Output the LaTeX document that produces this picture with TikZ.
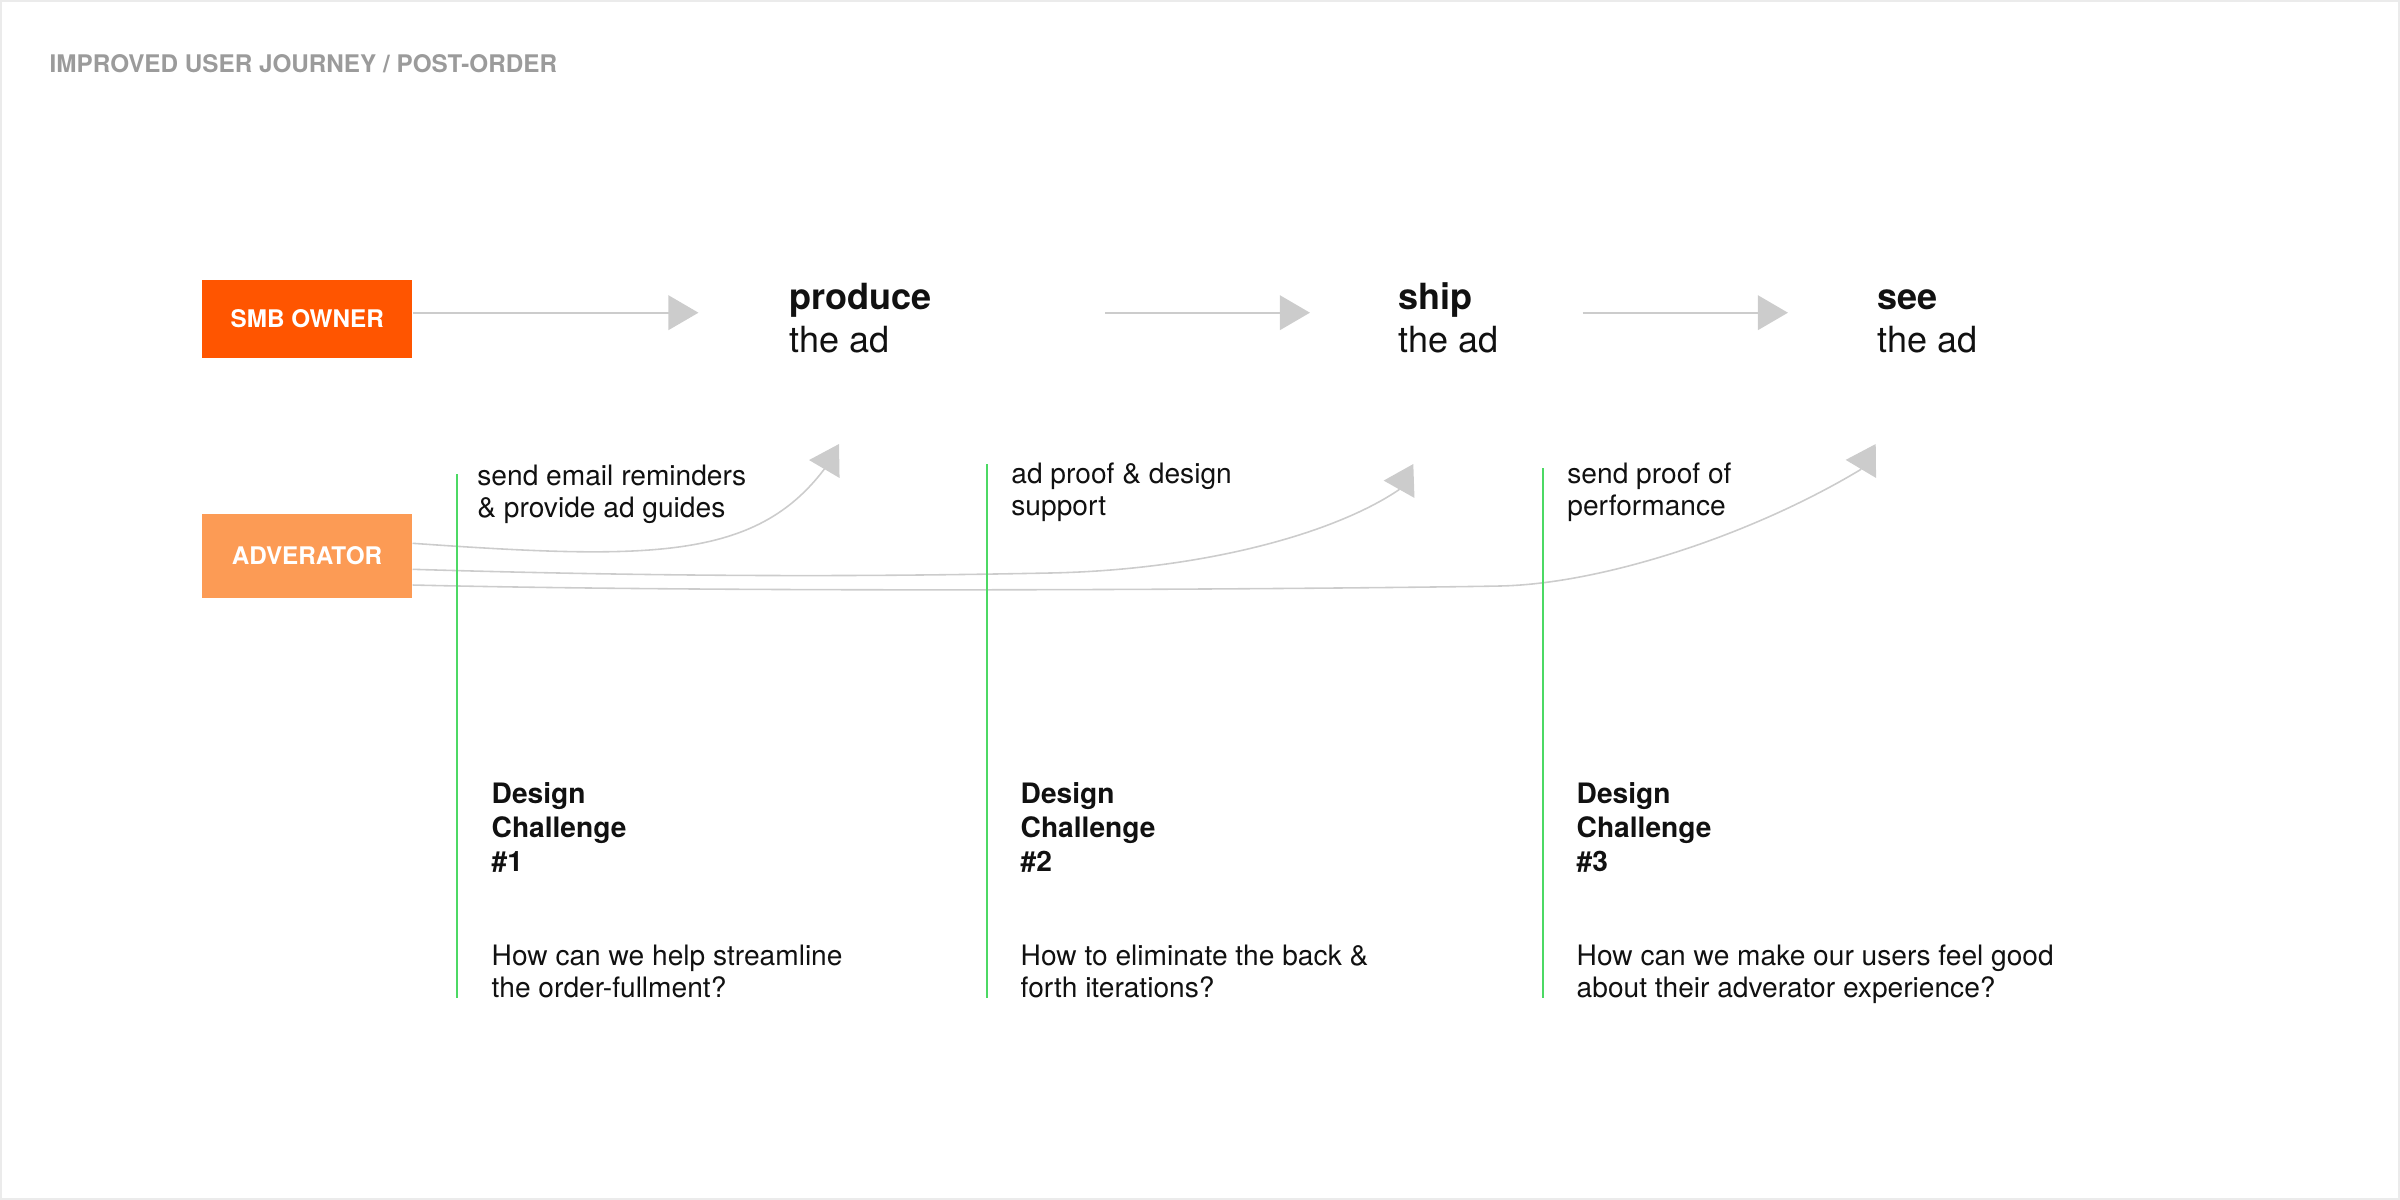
\documentclass[tikz,border=0pt]{standalone}
\usepackage{fontspec}
\setmainfont{TeX Gyre Heros}
\usepackage{tikz}
\usetikzlibrary{positioning,calc,arrows.meta}
\definecolor{smb red}{HTML}{FF5500}
\definecolor{adv orange}{HTML}{FC9B55}
\definecolor{flow gray}{HTML}{CCCCCC}
\definecolor{rule green}{HTML}{4CD964}
\definecolor{title gray}{HTML}{9B9B9B}
\definecolor{frame gray}{HTML}{EBEBEB}
\definecolor{ink}{HTML}{111111}
\tikzset{
	journey map/.style={
		x=0.01cm,
		y=-0.01cm, % one unit is one pixel of the page, y runs down
		text=ink,
		font=\fontsize{8pt}{9.1pt}\selectfont,
		page frame/.style={
			draw=frame gray,
			line width=0.04cm
		},
		flow arrow/.style={
			draw=flow gray,
			line width=0.55pt,
			-{Triangle[length=0.3cm,width=0.345cm]}
		},
		support arrow/.style={
			draw=flow gray,
			line width=0.45pt,
			-{Triangle[length=0.29cm,width=0.35cm]}
		},
		phase rule/.style={
			draw=rule green,
			line width=0.02cm
		}
	},
	map title/.style={
		anchor=base west,
		inner sep=0pt,
		text=title gray,
		font=\fontsize{6.9pt}{8pt}\selectfont\bfseries
	},
	actor box/.style={
		rectangle,
		inner sep=0pt,
		minimum width=2.095cm,
		text=white,
		font=\fontsize{6.9pt}{8pt}\selectfont\bfseries
	},
	stage label/.style={
		anchor=base west, % base is the baseline of the last line
		inner sep=0pt,
		align=left,
		font=\fontsize{10.25pt}{11.95pt}\selectfont
	},
	note text/.style={
		anchor=base west,
		inner sep=0pt,
		align=left,
		font=\fontsize{8pt}{9.1pt}\selectfont
	},
	challenge label/.style={
		note text,
		font=\fontsize{8pt}{9.67pt}\selectfont\bfseries
	},
	question text/.style={
		note text
	}
}
\begin{document}
\begin{tikzpicture}[journey map]
	\useasboundingbox (0,0) rectangle (2400,1200);
	\draw[page frame] (0,0) rectangle (2400,1200);
	\node[map title] (title) at (49,72.3) {IMPROVED USER JOURNEY / POST-ORDER};

	% actors
	\node[actor box,fill=smb red,minimum height=0.777cm] (smb) at (307.25,318.85) {SMB OWNER};
	\node[actor box,fill=adv orange,minimum height=0.84cm] (adv) at (307,556) {ADVERATOR};

	% stages of the journey
	\node[stage label] (produce) at (789,352) {\textbf{produce}\\the ad};
	\node[stage label] (ship) at (1397.5,352) {\textbf{ship}\\the ad};
	\node[stage label] (see) at (1876.5,352) {\textbf{see}\\the ad};

	\coordinate (flow row) at (0,312.7);
	\draw[flow arrow,shorten >=0.905cm] (smb.east |- flow row) -- (produce.west |- flow row);
	\draw[flow arrow,shorten <=3.16cm,shorten >=0.875cm] (produce.west |- flow row) -- (ship.west |- flow row);
	\draw[flow arrow,shorten <=1.85cm,shorten >=0.885cm] (ship.west |- flow row) -- (see.west |- flow row);

	% what the adverator does at each stage
	\coordinate (produce tip) at (839,444);
	\coordinate (ship tip) at (1413.3,464);
	\coordinate (see tip) at (1875.7,444);
	\draw[support arrow] ([yshift=0.127cm]adv.east) .. controls (650,560) and (755,560) .. (824,469.5) -- (produce tip);
	\draw[support arrow] ([yshift=-0.133cm]adv.east) .. controls (700,578) and (900,576) .. (1050,573)
		.. controls (1200,570) and (1332.3,534.7) .. (1398.7,489.9) -- (ship tip);
	\draw[support arrow] ([yshift=-0.29cm]adv.east) .. controls (800,594) and (1400,588) .. (1500,586)
		.. controls (1600,584) and (1749,536.6) .. (1860.4,469.7) -- (see tip);

	\node[note text] (email note) at (476.7,517.7) {send email reminders\\\& provide ad guides};
	\node[note text] (proof note) at (1010.7,515.3) {ad proof \& design\\support};
	\node[note text] (performance note) at (1566.7,515.3) {send proof of\\performance};

	% phase rules
	\draw[phase rule] (456.7,474) -- (456.7,998);
	\draw[phase rule] (987,464) -- (987,998);
	\draw[phase rule] (1542.7,468) -- (1542.7,998);

	% design challenges
	\node[challenge label] (challenge one) at (491,871.3) {Design\\Challenge\\\#1};
	\node[challenge label] (challenge two) at (1020,871.3) {Design\\Challenge\\\#2};
	\node[challenge label] (challenge three) at (1576,871.3) {Design\\Challenge\\\#3};

	\node[question text] (question one) at (491,997) {How can we help streamline\\the order-fullment?};
	\node[question text] (question two) at (1020,997) {How to eliminate the back \&\\forth iterations?};
	\node[question text] (question three) at (1576,997) {How can we make our users feel good\\about their adverator experience?};
\end{tikzpicture}
\end{document}
